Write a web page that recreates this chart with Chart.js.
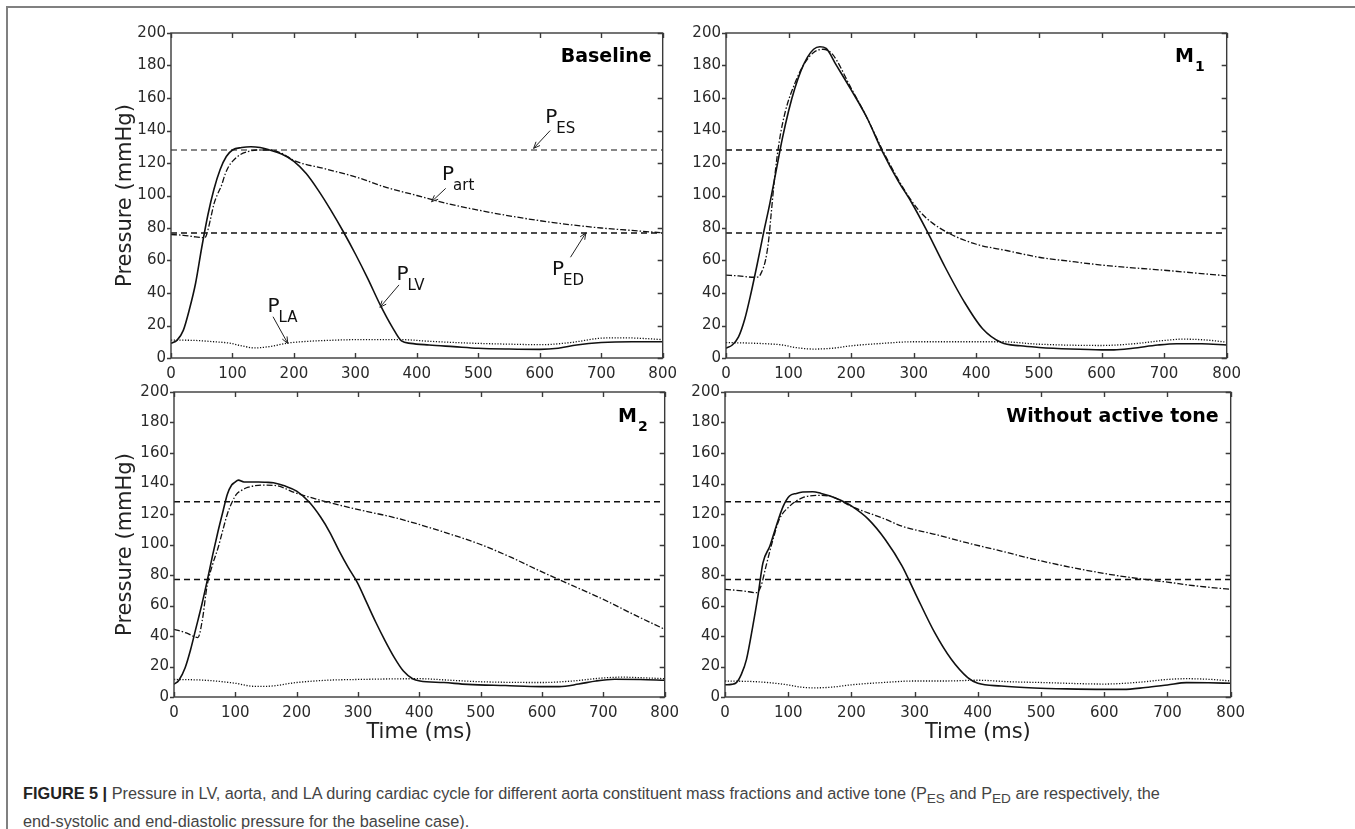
<!DOCTYPE html>
<html>
<head>
<meta charset="utf-8">
<script src="https://cdn.jsdelivr.net/npm/chart.js@4.4.1/dist/chart.umd.min.js"></script>
<style>
  body { margin: 0; background: #fff; }
  #page { position: relative; width: 1355px; height: 829px; overflow: hidden; background: #fff; }
  #frame { position: absolute; left: 6px; top: 6px; width: 1360px; height: 840px; border-top: 2px solid #808080; border-left: 2px solid #808080; }
  .panel { position: absolute; }
  .caption { position: absolute; left: 23px; top: 782px; font-family: "Liberation Sans", Arial, sans-serif; font-size: 16.3px; line-height: 22px; color: #444; white-space: nowrap; }
  .caption b { color: #222; }
</style>
</head>
<body>
<div id="page">
  <div id="frame"></div>
  <canvas id="cBase" class="panel"></canvas>
  <canvas id="cM1" class="panel"></canvas>
  <canvas id="cM2" class="panel"></canvas>
  <canvas id="cNoTone" class="panel"></canvas>
  <div class="caption">
    <b>FIGURE 5 |</b> Pressure in LV, aorta, and LA during cardiac cycle for different aorta constituent mass fractions and active tone (P<sub>ES</sub> and P<sub>ED</sub> are respectively, the<br>
    end-systolic and end-diastolic pressure for the baseline case).
  </div>
</div>
<script>
// --- axis ticks ---
const xTicks = [0, 100, 200, 300, 400, 500, 600, 700, 800];
const yTicks = [0, 20, 40, 60, 80, 100, 120, 140, 160, 180, 200];

// reference pressures (baseline case)
const pES = 128;
const pED = 77;

// --- Baseline ---
const blLvT = [0, 10, 20, 30, 40, 50, 60, 70, 80, 90, 100, 115, 130, 145, 160, 180, 200, 220, 240, 260, 280, 300, 320, 340, 360, 375, 390, 420, 460, 500, 550, 600, 630, 660, 700, 750, 800];
const blLv = [9, 11, 17, 30, 46, 68, 88, 104, 116, 124, 128, 129.5, 130, 129.5, 128, 125.5, 121, 113.5, 103, 91, 78, 64, 49, 33, 19, 10.5, 9, 8, 7, 6, 5.5, 5.3, 6, 8, 9.5, 10, 10];
const blArtT = [0, 20, 40, 55, 58, 64, 70, 76, 82, 88, 94, 100, 112, 125, 140, 160, 180, 200, 250, 300, 350, 400, 450, 500, 550, 600, 650, 700, 750, 800];
const blArt = [76, 75.5, 74.5, 74, 76, 85, 95, 101, 106, 113, 118, 121, 125, 127, 128, 128, 126, 121.5, 116.5, 111.5, 105, 100, 95, 91, 87.5, 84.5, 82, 80, 78.5, 77];
const blLaT = [0, 40, 70, 94, 115, 136, 160, 190, 220, 260, 304, 350, 375, 420, 483, 540, 603, 650, 705, 740, 770, 800];
const blLa = [11, 10.8, 10, 9.2, 7.5, 6.2, 7, 9.2, 10.2, 10.9, 11.3, 11.3, 11.3, 10.3, 9.2, 8.6, 8.2, 9.5, 12.3, 12.4, 12, 11.3];

// --- M1 ---
const m1LvT = [0, 10, 20, 30, 40, 50, 60, 70, 80, 90, 100, 110, 120, 130, 140, 150, 160, 175, 200, 225, 250, 275, 296, 320, 350, 380, 410, 440, 470, 500, 550, 600, 620, 650, 690, 720, 760, 800];
const m1Lv = [6, 8, 13, 24, 40, 58, 77, 95, 115, 135, 152, 166, 177, 185, 190, 191.5, 190.5, 181, 165, 148, 127, 109, 96, 79, 56, 35, 18, 9.5, 7.5, 6.5, 5.5, 5, 5, 6, 8, 8.8, 8.8, 8];
const m1ArtT = [0, 20, 45, 52, 57, 63, 68, 72, 78, 85, 95, 110, 125, 140, 155, 170, 200, 225, 250, 275, 296, 310, 330, 360, 400, 450, 500, 550, 600, 650, 700, 750, 800];
const m1Art = [51, 50.5, 49.7, 50, 53, 60, 72, 88, 112, 133, 152, 169, 181, 188, 190, 187, 166, 148, 128, 110, 97, 90, 83, 76, 70, 66, 62, 59.5, 57.2, 55.5, 54, 52.3, 50.6];
const m1LaT = [0, 50, 90, 110, 140, 170, 200, 250, 300, 350, 440, 500, 600, 650, 700, 730, 770, 800];
const m1La = [9.5, 9, 8, 6.5, 5.5, 6, 7.5, 9, 10, 10, 10, 8.5, 7.7, 8.7, 10.8, 11.6, 11, 9.7];

// --- M2 ---
const m2LvT = [0, 8, 18, 27, 36, 45, 54, 63, 72, 80, 87, 94, 99, 105, 114, 125, 138, 150, 162, 180, 200, 220, 239, 254, 269, 284, 299, 314, 329, 344, 359, 374, 389, 401, 440, 479, 540, 598, 628, 660, 688, 718, 760, 800];
const m2Lv = [8.3, 11, 19, 31, 45.5, 60, 76, 93, 109, 122, 133, 139, 140.7, 142.2, 141, 141, 141, 140.8, 140.5, 138.5, 135, 128, 118, 108, 96, 85, 75, 62, 49, 37, 26, 17, 12, 10.5, 9.5, 8.3, 7.5, 6.8, 6.8, 8.5, 10.5, 11.6, 11.5, 11];
const m2ArtT = [0, 20, 39, 46, 54, 63, 72, 80, 87, 95, 102, 110, 120, 144, 168, 197, 239, 299, 359, 401, 449, 500, 550, 600, 650, 700, 750, 800];
const m2Art = [44.4, 42, 39, 50, 73, 87, 98, 110, 120, 128, 133, 135.5, 137.4, 139, 138.5, 134, 129, 123, 117.7, 113, 107, 100, 91.5, 82, 73, 64, 54, 44.4];
const m2LaT = [0, 50, 100, 130, 150, 200, 250, 300, 400, 450, 500, 600, 650, 700, 730, 770, 800];
const m2La = [11.5, 11, 9, 7, 7, 9.5, 11, 11.5, 12, 11, 10, 9.5, 10.5, 12.5, 13, 12.5, 12];

// --- Without active tone ---
const ntLvT = [0, 10, 18, 26, 34, 44, 52, 60, 71, 81, 92, 102, 113, 123, 139, 152, 165, 183, 201, 227, 254, 280, 301, 332, 358, 384, 400, 437, 489, 540, 600, 630, 665, 700, 730, 765, 800];
const ntLv = [8, 8.3, 9.4, 15, 24.7, 46.5, 66, 88, 99, 112, 125, 131.8, 133.5, 134.4, 134.6, 133.5, 132, 129, 125, 116.5, 103, 86, 68, 42, 24.7, 12.7, 9, 7.2, 5.9, 5.3, 5, 5, 6.2, 7.9, 9.4, 9.3, 9];
const ntArtT = [0, 30, 50, 57, 65, 76, 86, 102, 123, 149, 165, 201, 254, 280, 332, 384, 437, 489, 537, 600, 642, 700, 746, 800];
const ntArt = [70.6, 69.5, 68.4, 72.8, 86, 103.4, 116.5, 125, 130.7, 132.2, 131.8, 124.8, 116.5, 112, 106.7, 101, 95.7, 90.3, 85.9, 81, 78.3, 75.3, 72.8, 70.6];
const ntLaT = [0, 50, 90, 120, 140, 170, 200, 250, 300, 350, 400, 450, 500, 600, 650, 700, 730, 770, 800];
const ntLa = [10.5, 10, 8.5, 6.5, 6, 6.5, 8, 9.5, 10.5, 10.5, 11, 10, 9.5, 8.5, 9.5, 11.5, 12, 11.5, 10.5];

// baseline annotations: label, text anchor [ms, mmHg], arrow from, arrow to
const annoSubs = ["ES", "art", "LV", "ED", "LA"];
const annoText = [[609, 144.6], [441, 109.5], [367, 48], [620, 51], [157, 28.3]];
const annoFrom = [[617, 140], [447, 104.4], [371, 45], [650, 62], [166, 25.4]];
const annoTo = [[590, 129], [424, 96.2], [340, 31.2], [675, 77], [190, 9]];

const INK = "#111";
const FONT = "DejaVu Sans";

function pts(ts, vs) {
    return ts.map((t, i) => ({ x: t, y: vs[i] }));
}

// frame, ticks, panel label and arrows
const decor = {
    id: "decor",
    afterDatasetsDraw(chart, args, o) {
        const { ctx, chartArea: a, scales } = chart;
        const sx = scales.x, sy = scales.y;
        ctx.save();
        ctx.strokeStyle = "#3a3a3a";
        ctx.lineWidth = 1.4;
        ctx.setLineDash([]);
        ctx.strokeRect(a.left, a.top, a.right - a.left, a.bottom - a.top);
        ctx.beginPath();
        xTicks.forEach(v => {
            const px = Math.round(sx.getPixelForValue(v)) + 0.5;
            ctx.moveTo(px, a.bottom); ctx.lineTo(px, a.bottom - 5);
            ctx.moveTo(px, a.top); ctx.lineTo(px, a.top + 5);
        });
        yTicks.forEach(v => {
            const py = Math.round(sy.getPixelForValue(v)) + 0.5;
            ctx.moveTo(a.left, py); ctx.lineTo(a.left - 4, py);
            ctx.moveTo(a.right, py); ctx.lineTo(a.right - 5, py);
        });
        ctx.stroke();

        // panel label
        ctx.fillStyle = "#000";
        ctx.textBaseline = "middle";
        ctx.font = "bold 19px " + FONT;
        let right = a.right - o.dx;
        const cy = a.top + o.dy;
        if (o.sub) {
            ctx.font = "bold 14px " + FONT;
            ctx.textAlign = "right";
            ctx.fillText(o.sub, right, cy + 10);
            right -= ctx.measureText(o.sub).width + 1;
            ctx.font = "bold 19px " + FONT;
        }
        ctx.textAlign = "right";
        ctx.fillText(o.label, right, cy);

        // P_xx annotations with arrows
        if (o.annotate) {
            ctx.textAlign = "left";
            ctx.textBaseline = "alphabetic";
            annoSubs.forEach((s, i) => {
                const tx = sx.getPixelForValue(annoText[i][0]);
                const ty = sy.getPixelForValue(annoText[i][1]);
                ctx.font = "20px " + FONT;
                ctx.fillStyle = "#111";
                ctx.fillText("P", tx, ty);
                const w = ctx.measureText("P").width;
                ctx.font = "15px " + FONT;
                ctx.fillText(s, tx + w - 1, ty + 10);

                const x0 = sx.getPixelForValue(annoFrom[i][0]), y0 = sy.getPixelForValue(annoFrom[i][1]);
                const x1 = sx.getPixelForValue(annoTo[i][0]), y1 = sy.getPixelForValue(annoTo[i][1]);
                const ang = Math.atan2(y1 - y0, x1 - x0);
                ctx.strokeStyle = "#222";
                ctx.lineWidth = 1;
                ctx.beginPath();
                ctx.moveTo(x0, y0); ctx.lineTo(x1, y1);
                ctx.moveTo(x1, y1); ctx.lineTo(x1 - 7 * Math.cos(ang - 0.4), y1 - 7 * Math.sin(ang - 0.4));
                ctx.moveTo(x1, y1); ctx.lineTo(x1 - 7 * Math.cos(ang + 0.4), y1 - 7 * Math.sin(ang + 0.4));
                ctx.stroke();
            });
        }
        ctx.restore();
    }
};

function makePanel(id, box, series, deco) {
    const el = document.getElementById(id);
    el.width = box.w; el.height = box.h;
    el.style.left = box.left + "px"; el.style.top = box.top + "px";
    el.style.width = box.w + "px"; el.style.height = box.h + "px";

    const line = (data, dash, width) => ({
        data, borderColor: INK, borderWidth: width, borderDash: dash,
        pointRadius: 0, fill: false, cubicInterpolationMode: "monotone"
    });

    return new Chart(el.getContext("2d"), {
        type: "line",
        data: {
            datasets: [
                line(series.lv, [], 1.6),
                line(series.art, [6, 2, 1.5, 2], 1.3),
                line(series.la, [1.2, 1.6], 1.3),
                line(pts([0, 800], [pES, pES]), [6, 4], series.esW),
                line(pts([0, 800], [pED, pED]), [6, 4], 1.5)
            ]
        },
        options: {
            responsive: false, animation: false,
            layout: { padding: { top: box.padTop, right: box.padRight, left: 0, bottom: 0 } },
            plugins: { legend: { display: false }, tooltip: { enabled: false }, decor: deco },
            scales: {
                x: {
                    type: "linear", min: 0, max: 800,
                    afterBuildTicks: s => { s.ticks = xTicks.map(v => ({ value: v })); },
                    afterFit: s => { s.height = box.xh; },
                    grid: { display: false, drawTicks: false }, border: { display: false },
                    ticks: { color: "#2a2a2a", font: { family: FONT, size: 15 }, padding: 7, maxRotation: 0 },
                    title: { display: box.xTitle, text: "Time (ms)", color: "#222", font: { family: FONT, size: 21 }, padding: 0 }
                },
                y: {
                    type: "linear", min: 0, max: 200,
                    afterBuildTicks: s => { s.ticks = yTicks.map(v => ({ value: v })); },
                    afterFit: s => { s.width = box.yw; },
                    grid: { display: false, drawTicks: false }, border: { display: false },
                    ticks: { color: "#2a2a2a", font: { family: FONT, size: 15 }, padding: 5 },
                    title: { display: box.yTitle, text: "Pressure (mmHg)", color: "#222", font: { family: FONT, size: 21 }, padding: 0 }
                }
            }
        },
        plugins: [decor]
    });
}

makePanel("cBase",
    { left: 113, top: 15, w: 571, h: 373, yw: 58, xh: 30, padTop: 18, padRight: 18, yTitle: true, xTitle: false },
    { lv: pts(blLvT, blLv), art: pts(blArtT, blArt), la: pts(blLaT, blLa), esW: 1.1 },
    { label: "Baseline", dx: 11, dy: 24, annotate: true });

makePanel("cM1",
    { left: 676, top: 15, w: 572, h: 373, yw: 50, xh: 30, padTop: 18, padRight: 18, yTitle: false, xTitle: false },
    { lv: pts(m1LvT, m1Lv), art: pts(m1ArtT, m1Art), la: pts(m1LaT, m1La), esW: 1.4 },
    { label: "M", sub: "1", dx: 22, dy: 24 });

makePanel("cM2",
    { left: 113, top: 377, w: 573, h: 368, yw: 61, xh: 48, padTop: 15, padRight: 18, yTitle: true, xTitle: true },
    { lv: pts(m2LvT, m2Lv), art: pts(m2ArtT, m2Art), la: pts(m2LaT, m2La), esW: 1.4 },
    { label: "M", sub: "2", dx: 17, dy: 25 });

makePanel("cNoTone",
    { left: 676, top: 377, w: 576, h: 368, yw: 49, xh: 48, padTop: 15, padRight: 18, yTitle: false, xTitle: true },
    { lv: pts(ntLvT, ntLv), art: pts(ntArtT, ntArt), la: pts(ntLaT, ntLa), esW: 1.4 },
    { label: "Without active tone", dx: 12, dy: 25 });
</script>
</body>
</html>
